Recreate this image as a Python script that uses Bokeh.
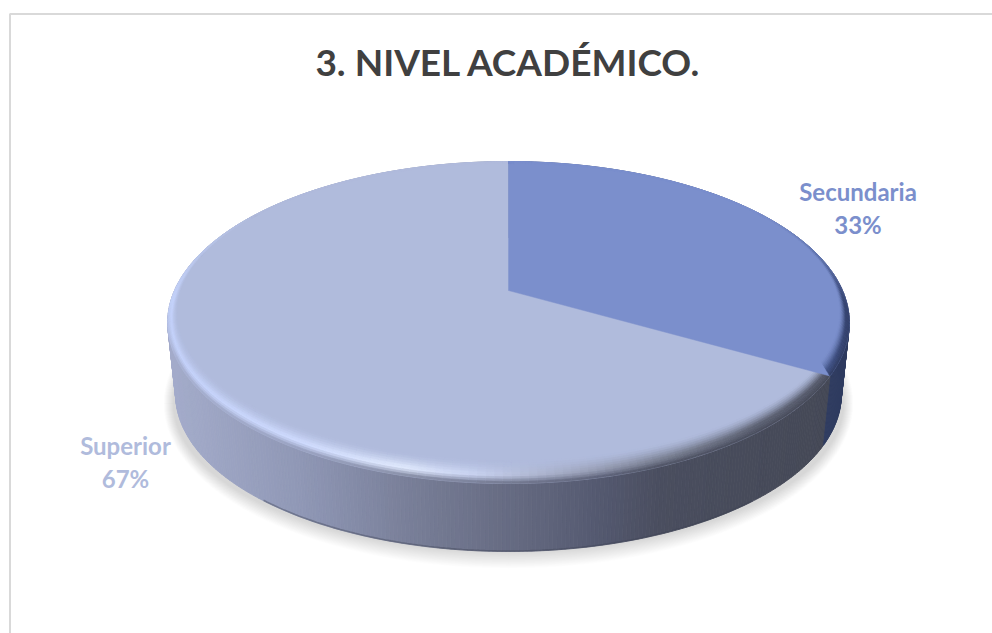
import numpy as np
from bokeh.plotting import figure
from bokeh.embed import file_html
from bokeh.resources import INLINE
from bokeh.core.properties import value

# ---- data ----
categories = ["Secundaria", "Superior"]
shares = [33.3, 66.7]
slice_colors = ["#7b8fcc", "#b0bbdc"]
title_text = "3. NIVEL ACADÉMICO."

# ---- layout ----
W, H = 992, 633
OX, OY = 0, 0
p = figure(width=W, height=H, x_range=(OX, OX + W), y_range=(OY + H, OY),
           output_backend="svg", toolbar_location=None, min_border=0,
           x_axis_location=None, y_axis_location=None)
p.grid.visible = False
p.outline_line_color = None
p.background_fill_color = "#ffffff"
p.border_fill_color = "#ffffff"

CX, VY, K, A, B = 508.0, 290.0, 0.199, 154.6, 334.0
TOP_CY, BOT_CY, XS, YS = 322.0, 394.0, 333 / 341, 157 / 161


def proj(th):
    u, v = np.sin(th), -np.cos(th)
    d = 1 - K * v
    return CX + B * u / d, VY + A * v / d


def lower(x, y):
    return CX + (x - CX) * XS, BOT_CY + (y - TOP_CY) * YS


def inner(x, y):
    return CX + (x - CX) * 0.972, 163 + (y - 161) * (462 - 163) / (485 - 161)


def hex2rgb(c):
    return np.array([int(c[i:i + 2], 16) for i in (1, 3, 5)], dtype=float)


def mix(a, b, t):
    return a + (b - a) * t


def col(c):
    return "#%02x%02x%02x" % tuple(int(round(np.clip(v, 0, 255))) for v in c)


def ramp(x, stops):
    xs = [s[0] for s in stops]
    return np.array([np.interp(x, xs, [hex2rgb(s[1])[i] for s in stops]) for i in range(3)])


# border of the chart area
p.line([9.5, 9.5, 992], [633, 13.5, 13.5], line_color="#d9d9d9", line_width=2)

# soft shadow
N_SH = 20
for i in range(N_SH):
    g = 1 - i / N_SH
    p.ellipse([CX], [403], width=[2 * 335 + 20 * g], height=[296 + 34 * g],
              fill_color="#000000", fill_alpha=0.008, line_color=None)

# angular extents from the data
fr = np.cumsum([0] + shares) / sum(shares) * 2 * np.pi
SIDE_SUP = [(170, "#a3abca"), (300, "#8f97b5"), (420, "#767c95"), (520, "#646980"),
            (600, "#545970"), (660, "#4a4e5f"), (830, "#444856")]
SIDE_SEC = [(820, "#2f3b60"), (850, "#2f3b60")]
EDGE_SUP = [(165, "#c4d2fb"), (300, "#d0dcff"), (400, "#e2ebff"), (470, "#cbd5f3"),
            (560, "#a6adc6"), (660, "#7e8497"), (760, "#5e6374"), (830, "#55596a")]
EDGE_SEC = [(820, "#46598f"), (850, "#35436f")]

xs_, ys_, cs_ = [], [], []

# side walls
for i, (c, side) in enumerate(zip(categories, [SIDE_SEC, SIDE_SUP])):
    th = np.linspace(fr[i], fr[i + 1], int(shares[i] * 6) + 2)
    for a, b in zip(th[:-1], th[1:]):
        x0, y0 = proj(a)
        x1, y1 = proj(b)
        xa, ya = lower(x0, y0)
        xb, yb = lower(x1, y1)
        xs_.append([x0, x1, xb, xa])
        ys_.append([y0, y1, yb, ya])
        cs_.append(col(ramp((x0 + x1) / 2, side)))

p.patches(xs_, ys_, fill_color=cs_, line_color=cs_, line_width=0.8)

# darker foot of the wall
th = np.linspace(fr[1], fr[2], 300)
fx, fy = lower(*proj(th))
keep = fy > 500
p.line(fx[keep], fy[keep] - 0.5, line_color="#3c4052", line_width=1.6, line_alpha=0.4)

BANDS = 10


def draw_top(i, edge, side):
    # flat face
    th = np.linspace(fr[i], fr[i + 1], 200)
    x, y = proj(th)
    p.patch(np.r_[CX, x], np.r_[VY, y], fill_color=slice_colors[i], line_color=slice_colors[i], line_width=0.5)
    # rounded bevel along the rim
    qxs, qys, qcs = [], [], []
    base = hex2rgb(slice_colors[i])
    th = np.linspace(fr[i], fr[i + 1], int(shares[i] * 3) + 2)
    for a, b in zip(th[:-1], th[1:]):
        x0, y0 = proj(a)
        x1, y1 = proj(b)
        ix0, iy0 = inner(x0, y0)
        ix1, iy1 = inner(x1, y1)
        mx, my = (x0 + x1) / 2, (y0 + y1) / 2
        e = ramp(mx, edge)
        sd = ramp(mx, side)
        strength = np.clip((my - 215) / 90, 0, 1)
        wall = np.clip((my - 300) / 60, 0, 1)
        for k in range(BANDS):
            t0, t1 = k / BANDS, (k + 1) / BANDS
            tm = (t0 + t1) / 2
            cc = mix(base, e, min(1, tm / 0.62) ** 1.5 * strength)
            if tm > 0.62:
                cc = mix(cc, sd, ((tm - 0.62) / 0.38) ** 1.4 * wall)
            qxs.append([ix0 + (x0 - ix0) * t0, ix1 + (x1 - ix1) * t0, ix1 + (x1 - ix1) * t1, ix0 + (x0 - ix0) * t1])
            qys.append([iy0 + (y0 - iy0) * t0, iy1 + (y1 - iy1) * t0, iy1 + (y1 - iy1) * t1, iy0 + (y0 - iy0) * t1])
            qcs.append(col(cc))
    p.patches(qxs, qys, fill_color=qcs, line_color=qcs, line_width=0.6)


draw_top(1, EDGE_SUP, SIDE_SUP)
draw_top(0, EDGE_SEC, SIDE_SEC)

# texts
p.text([508], [61], text=[title_text], text_font=value("Lato"), text_font_style="bold",
       text_font_size="37px", text_color="#404040", text_align="center", text_baseline="middle")
label_x = [857.5, 125]
label_y = [[191, 224], [445, 478]]
for i, c in enumerate(categories):
    p.text([label_x[i]], [label_y[i][0]], text=[c], text_font=value("Lato"), text_font_style="bold",
           text_font_size="24px", text_color=slice_colors[i], text_align="center", text_baseline="middle")
    p.text([label_x[i]], [label_y[i][1]], text=["%d%%" % round(shares[i])], text_font=value("Lato"),
           text_font_style="bold", text_font_size="24px", text_color=slice_colors[i],
           text_align="center", text_baseline="middle")

open("out.html", "w").write(file_html(p, INLINE))
